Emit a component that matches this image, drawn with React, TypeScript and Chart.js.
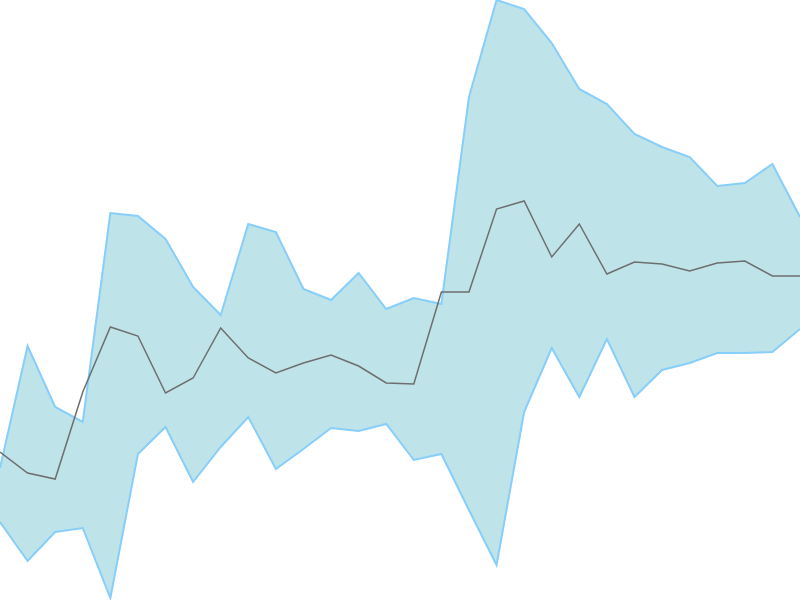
import { useEffect, useRef } from "react";
import { Chart, registerables } from "chart.js";

Chart.register(...registerables);

const LABELS = Array.from({ length: 30 }, (_, i) => String(i + 1));

const UPPER = [
  132, 254, 193, 178, 387, 384, 361, 313, 285, 376, 368, 311, 300, 327, 291,
  302, 296, 503, 600, 591, 557, 511, 496, 466, 453, 443, 414, 417, 436, 383,
];

const LOWER = [
  78, 39, 68, 72, 2, 146, 173, 118, 153, 183, 131, 151, 172, 169, 176,
  140, 146, 90, 35, 188, 252, 203, 261, 203, 230, 237, 247, 247, 248, 271,
];

const MIDDLE = [
  148, 127, 121, 208, 273, 264, 207, 222, 272, 242, 227, 237, 245, 234, 217,
  216, 308, 308, 391, 399, 343, 376, 326, 338, 336, 329, 337, 339, 324, 324,
];

export default function App() {
  const canvasRef = useRef<HTMLCanvasElement>(null);

  useEffect(() => {
    if (!canvasRef.current) return;
    const chart = new Chart(canvasRef.current, {
      type: "line",
      data: {
        labels: LABELS,
        datasets: [
          {
            data: MIDDLE,
            borderColor: "#6e6e6e",
            borderWidth: 1.5,
            pointRadius: 0,
            tension: 0,
            fill: false,
          },
          {
            data: UPPER,
            borderColor: "#87cefa",
            borderWidth: 2,
            backgroundColor: "#bee3e9",
            pointRadius: 0,
            tension: 0,
            fill: "+1",
          },
          {
            data: LOWER,
            borderColor: "#87cefa",
            borderWidth: 2,
            pointRadius: 0,
            tension: 0,
            fill: false,
          },
        ],
      },
      options: {
        responsive: false,
        animation: false,
        layout: { padding: 0 },
        plugins: {
          legend: { display: false },
          tooltip: { enabled: false },
          filler: { drawTime: "beforeDatasetsDraw" },
        },
        scales: {
          x: { display: false },
          y: { display: false, min: 0, max: 600 },
        },
      },
    });
    return () => chart.destroy();
  }, []);

  return (
    <div style={{ position: "fixed", left: 0, top: 0, width: 800, height: 600, background: "#fff" }}>
      <canvas ref={canvasRef} width={800} height={600} style={{ display: "block" }} />
    </div>
  );
}
